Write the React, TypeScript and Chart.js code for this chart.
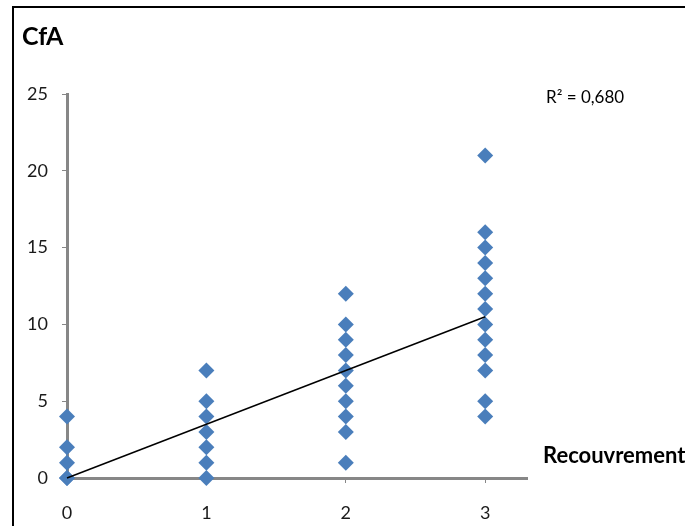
import React, { useEffect, useRef } from "react";
import { Chart, registerables } from "chart.js";

Chart.register(...registerables);

// Data (x = Recouvrement class, y = CfA)
const xCategories = [0, 1, 2, 3];
const yAt0 = [0, 0, 1, 2, 4];
const yAt1 = [0, 1, 2, 3, 4, 5, 7];
const yAt2 = [1, 3, 4, 5, 6, 7, 8, 9, 10, 12];
const yAt3 = [4, 5, 7, 8, 9, 10, 11, 12, 13, 14, 15, 16, 21];
const trendX = [0, 3];
const trendY = [0, 10.5];
const yTicks = [0, 5, 10, 15, 20, 25];
const xTicks = [0, 1, 2, 3];
const titleText = "CfA";
const r2Text = "R² = 0,680";
const xAxisTitle = "Recouvrement";

const FONT = "Lato, 'DejaVu Sans', sans-serif";

const overlayPlugin = {
  id: "overlayText",
  afterDraw(chart: any) {
    const ctx = chart.ctx;
    ctx.save();
    // frame
    ctx.strokeStyle = "#000";
    ctx.lineWidth = 2;
    ctx.strokeRect(13, 7, 800, 800);
    ctx.fillStyle = "#000";
    ctx.textBaseline = "alphabetic";
    ctx.textAlign = "left";
    ctx.font = `bold 25px ${FONT}`;
    ctx.fillText(titleText, 22, 45);
    ctx.font = `17px ${FONT}`;
    ctx.fillText(r2Text, 546, 103);
    ctx.font = `bold 22px ${FONT}`;
    ctx.fillText(xAxisTitle, 543, 463);
    ctx.restore();
  },
};

export default function App() {
  const ref = useRef<HTMLCanvasElement | null>(null);
  useEffect(() => {
    document.body.style.margin = "0";
    const groups = [yAt0, yAt1, yAt2, yAt3];
    const points: { x: number; y: number }[] = [];
    groups.forEach((ys, i) => ys.forEach((y) => points.push({ x: xCategories[i], y })));
    const trend = trendX.map((x, i) => ({ x, y: trendY[i] }));
    const chart = new Chart(ref.current as HTMLCanvasElement, {
      type: "scatter",
      data: {
        datasets: [
          {
            type: "line",
            data: trend,
            borderColor: "#000",
            borderWidth: 1.5,
            pointRadius: 0,
            clip: false,
            order: 0,
          } as any,
          {
            data: points,
            pointStyle: "rectRot",
            pointRadius: 8,
            backgroundColor: "#4a7ebb",
            borderColor: "#4a7ebb",
            borderWidth: 0,
            clip: false,
            order: 1,
          } as any,
        ],
      },
      plugins: [overlayPlugin],
      options: {
        animation: false,
        responsive: false,
        devicePixelRatio: 1,
        layout: { padding: { left: 0, top: 94, right: 158, bottom: 0 } },
        plugins: { legend: { display: false }, tooltip: { enabled: false } },
        scales: {
          x: {
            type: "linear",
            min: 0,
            max: 3.3,
            afterBuildTicks: (s: any) => {
              s.ticks = xTicks.map((v) => ({ value: v }));
            },
            afterFit: (s: any) => {
              s.height = 48;
            },
            border: { display: true, color: "#878787", width: 3 },
            grid: { drawOnChartArea: false, drawTicks: true, tickLength: 5, color: "#878787", lineWidth: 1 },
            ticks: { color: "#1a1a1a", font: { family: FONT, size: 18 }, padding: 19, maxRotation: 0 },
          },
          y: {
            type: "linear",
            min: 0,
            max: 25,
            afterBuildTicks: (s: any) => {
              s.ticks = yTicks.map((v) => ({ value: v }));
            },
            afterFit: (s: any) => {
              s.width = 67;
            },
            border: { display: true, color: "#878787", width: 3 },
            grid: { drawOnChartArea: false, drawTicks: true, tickLength: 5, color: "#878787", lineWidth: 1 },
            ticks: { color: "#1a1a1a", font: { family: FONT, size: 18 }, padding: 14 },
          },
        },
      },
    });
    return () => chart.destroy();
  }, []);
  return (
    <div style={{ position: "absolute", left: 0, top: 0, width: 685, height: 526 }}>
      <canvas ref={ref} width={685} height={526} />
    </div>
  );
}
